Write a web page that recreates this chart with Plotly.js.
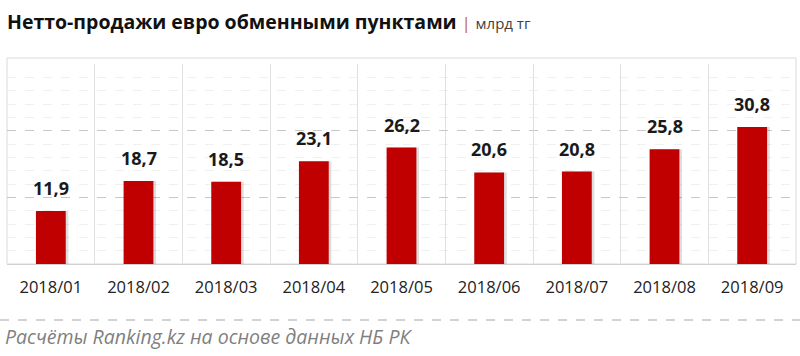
<!DOCTYPE html>
<html>
<head>
<meta charset="utf-8">
<script src="https://cdn.plot.ly/plotly-3.0.1.min.js"></script>
<style>html,body{margin:0;padding:0;background:#fff;}#chart{width:800px;height:356px;}</style>
</head>
<body>
<div id="chart"></div>
<script>
const categories = ["2018/01","2018/02","2018/03","2018/04","2018/05","2018/06","2018/07","2018/08","2018/09"];
const values = [11.9, 18.7, 18.5, 23.1, 26.2, 20.6, 20.8, 25.8, 30.8];
const labels = values.map(v => v.toFixed(1).replace('.', ','));

const FONT = "Open Sans, Liberation Sans, sans-serif";

const shadow = {
  type: 'bar', x: categories, y: values,
  width: 0.34, offset: -0.14,
  marker: {color: 'rgba(0,0,0,0.13)', line: {width: 0}},
  hoverinfo: 'skip', showlegend: false
};
const bars = {
  type: 'bar', x: categories, y: values,
  width: 0.34, offset: -0.17,
  marker: {color: '#C00000', line: {width: 0}},
  showlegend: false
};

const valueAnnotations = categories.map((c, i) => ({
  x: c, y: values[i], xref: 'x', yref: 'y',
  text: '<b>' + labels[i] + '</b>', showarrow: false,
  xanchor: 'center', yanchor: 'bottom', yshift: 9,
  font: {family: FONT, size: 18, color: '#1a1a1a'}
}));

const layout = {
  width: 800, height: 356,
  margin: {l: 7, r: 4, t: 64, b: 92},
  paper_bgcolor: '#fff', plot_bgcolor: '#fff',
  barmode: 'overlay',
  font: {family: FONT},
  title: {
    text: "<b>Нетто-продажи евро обменными пунктами</b> <span style='color:#C55A11;font-size:16px'>|</span> <span style='font-size:15px;color:#404040'>млрд тг</span>",
    x: 7/800, xanchor: 'left', xref: 'container',
    y: 1 - 22/356, yanchor: 'middle', yref: 'container',
    font: {family: FONT, size: 19.5, color: '#111'}
  },
  xaxis: {
    type: 'category',
    tickson: 'boundaries',
    showgrid: true, gridcolor: '#e0e0e0', gridwidth: 1,
    ticks: '', ticklabelstandoff: 11,
    tickfont: {family: FONT, size: 16.5, color: '#222'},
    showline: false, zeroline: false, fixedrange: true
  },
  yaxis: {
    range: [0, 45], dtick: 15,
    showticklabels: false,
    showgrid: true, gridcolor: '#c8c8c8', griddash: 'dash', gridwidth: 1,
    minor: {dtick: 3, showgrid: true, gridcolor: '#f0f0f0', gridwidth: 1},
    zeroline: true, zerolinecolor: '#d0d0d0', zerolinewidth: 1,
    fixedrange: true
  },
  shapes: [
    {type: 'rect', xref: 'paper', yref: 'paper', x0: 0, x1: 1, y0: 0, y1: 1.03,
     line: {color: '#dadada', width: 1}, layer: 'below'},
    {type: 'line', xref: 'paper', yref: 'paper', x0: -7/789, x1: 793/789,
     y0: (264-320)/200, y1: (264-320)/200,
     line: {color: '#a6a6a6', width: 1, dash: 'dash'}}
  ],
  annotations: valueAnnotations.concat([
    {xref: 'paper', yref: 'paper', x: -4/789, y: (264-336)/200,
     xanchor: 'left', yanchor: 'middle', showarrow: false,
     text: '<i>Расчёты Ranking.kz на основе данных НБ РК</i>',
     font: {family: FONT, size: 19.5, color: '#7f7f7f'}}
  ])
};

Plotly.newPlot('chart', [shadow, bars], layout, {displayModeBar: false, staticPlot: true});
</script>
</body>
</html>
